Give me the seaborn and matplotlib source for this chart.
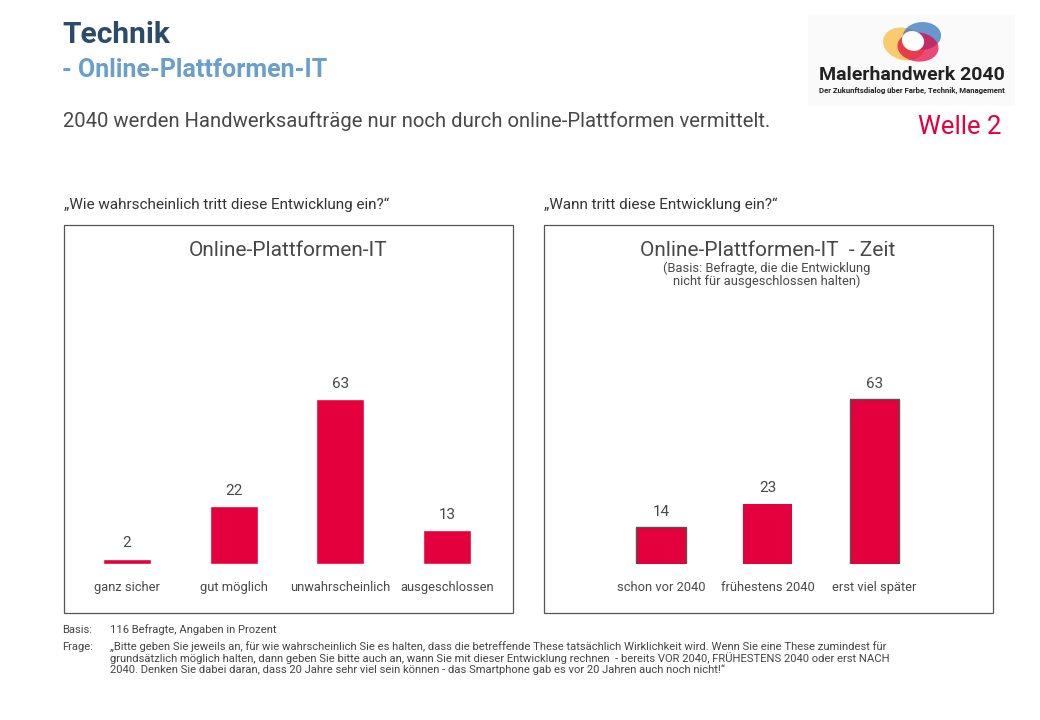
import matplotlib
matplotlib.use("Agg")
import matplotlib.pyplot as plt
import seaborn as sns
import pandas as pd
from matplotlib.patches import Rectangle, Ellipse

# ---- data ----
cats_left = ["ganz sicher", "gut möglich", "unwahrscheinlich", "ausgeschlossen"]
vals_left = [2, 22, 63, 13]
cats_right = ["schon vor 2040", "frühestens 2040", "erst viel später"]
vals_right = [14, 23, 63]

title_main = "Technik"
title_sub = "- Online-Plattformen-IT"
thesis = "2040 werden Handwerksaufträge nur noch durch online-Plattformen vermittelt."
q_left = "„Wie wahrscheinlich tritt diese Entwicklung ein?“"
q_right = "„Wann tritt diese Entwicklung ein?“"
chart_title_left = "Online-Plattformen-IT"
chart_title_right = "Online-Plattformen-IT  - Zeit"
chart_sub_right = "(Basis: Befragte, die die Entwicklung\nnicht für ausgeschlossen halten)"
basis_text = "116 Befragte, Angaben in Prozent"
frage_text = ("„Bitte geben Sie jeweils an, für wie wahrscheinlich Sie es halten, dass die betreffende These tatsächlich Wirklichkeit wird. Wenn Sie eine These zumindest für\n"
              "grundsätzlich möglich halten, dann geben Sie bitte auch an, wann Sie mit dieser Entwicklung rechnen  - bereits VOR 2040, FRÜHESTENS 2040 oder erst NACH\n"
              "2040. Denken Sie dabei daran, dass 20 Jahre sehr viel sein können - das Smartphone gab es vor 20 Jahren auch noch nicht!“")

RED = "#E4003C"
GREY = "#484848"

sns.set_theme(style="white")
plt.rcParams["font.family"] = ["Roboto", "DejaVu Sans"]

W, H = 1040, 720
fig = plt.figure(figsize=(10.4, 7.2), dpi=100)

def fx(px):
    return px / W

def fy(py):
    return 1 - py / H

# header texts
fig.text(fx(62), fy(35), title_main, fontsize=21.5, fontweight="bold", color="#2B4C69", va="center", ha="left")
fig.text(fx(62), fy(70), title_sub, fontsize=18, fontweight="bold", color="#6A9FC9", va="center", ha="left")
fig.text(fx(63), fy(121), thesis, fontsize=14.6, color=GREY, va="center", ha="left")
fig.text(fx(1002), fy(127), "Welle 2", fontsize=18.5, color=RED, va="center", ha="right")

# logo
fig.patches.append(Rectangle((fx(808), fy(106)), fx(207), 91 / H, transform=fig.transFigure,
                             facecolor="#FAFAFA", edgecolor="none", zorder=0))
for (cx, cy, w, h, ang, col) in [(904, 44, 40, 34, 25, "#F7B733"), (922, 36, 38, 28, -15, "#2A6EBB"),
                                  (918, 47, 40, 30, 35, "#E4003C")]:
    fig.patches.append(Ellipse((fx(cx), fy(cy)), fx(w), h / H, angle=ang, transform=fig.transFigure,
                               facecolor=col, edgecolor="none", alpha=0.7, zorder=1))
fig.patches.append(Ellipse((fx(913), fy(41)), fx(22), 20 / H, angle=10, transform=fig.transFigure,
                           facecolor="white", edgecolor="none", zorder=2))
fig.text(fx(912), fy(75), "Malerhandwerk 2040", fontsize=14, fontweight="bold", color="#222222", ha="center", va="center")
fig.text(fx(912), fy(90), "Der Zukunftsdialog über Farbe, Technik, Management", fontsize=5.6, fontweight="bold",
         color="#222222", ha="center", va="center")

# questions
fig.text(fx(64), fy(205), q_left, fontsize=11, color="#333333", va="center", ha="left")
fig.text(fx(544), fy(205), q_right, fontsize=11, color="#333333", va="center", ha="left")

# boxes
for x0 in (64, 544):
    fig.patches.append(Rectangle((fx(x0), fy(613)), fx(449), 388 / H, transform=fig.transFigure,
                                 facecolor="none", edgecolor="#555555", linewidth=0.9, zorder=0))

# chart titles
fig.text(fx(288), fy(250), chart_title_left, fontsize=15, color=GREY, ha="center", va="center")
fig.text(fx(768), fy(250), chart_title_right, fontsize=15, color=GREY, ha="center", va="center")
fig.text(fx(767), fy(275), chart_sub_right, fontsize=9.3, color=GREY, ha="center", va="center", linespacing=1.0)

# bar axes
scale = 165 / 63.0  # px per unit
ymax = 70
ax_h = ymax * scale

def make_ax(x_left_px, width_px):
    return fig.add_axes([fx(x_left_px), fy(564), fx(width_px), ax_h / H])

axL = make_ax(127 - 53.3, 4 * 106.7)
axR = make_ax(661 - 53.3, 3 * 106.6)

dfL = pd.DataFrame({"cat": cats_left, "val": vals_left})
dfR = pd.DataFrame({"cat": cats_right, "val": vals_right})

sns.barplot(data=dfL, x="cat", y="val", ax=axL, color=RED, width=0.45, saturation=1)
sns.barplot(data=dfR, x="cat", y="val", ax=axR, color=RED, width=0.46, saturation=1)

edge_right = ["#555555", "none", "#555555"]
for p, ec in zip(axR.patches, edge_right):
    p.set_edgecolor(ec)
    p.set_linewidth(1.0)

for ax, n in ((axL, 4), (axR, 3)):
    ax.set_ylim(0, ymax)
    ax.set_xlim(-0.5, n - 0.5)
    ax.set_xlabel("")
    ax.set_ylabel("")
    ax.set_yticks([])
    ax.tick_params(axis="x", length=0, pad=12, labelsize=9.3, labelcolor=GREY)
    for s in ax.spines.values():
        s.set_visible(False)
    ax.patch.set_alpha(0)
    ax.bar_label(ax.containers[0], padding=6, fontsize=11, color=GREY)

# footer
fs = 8.1
fig.text(fx(62), fy(630), "Basis:", fontsize=fs, color="#444444", va="center", ha="left")
fig.text(fx(110), fy(630), basis_text, fontsize=fs, color="#444444", va="center", ha="left")
fig.text(fx(62), fy(647), "Frage:", fontsize=fs, color="#444444", va="center", ha="left")
fig.text(fx(110), fy(641), frage_text, fontsize=fs, color="#444444", va="top", ha="left", linespacing=1.02)

fig.savefig("out.png", dpi=100)
